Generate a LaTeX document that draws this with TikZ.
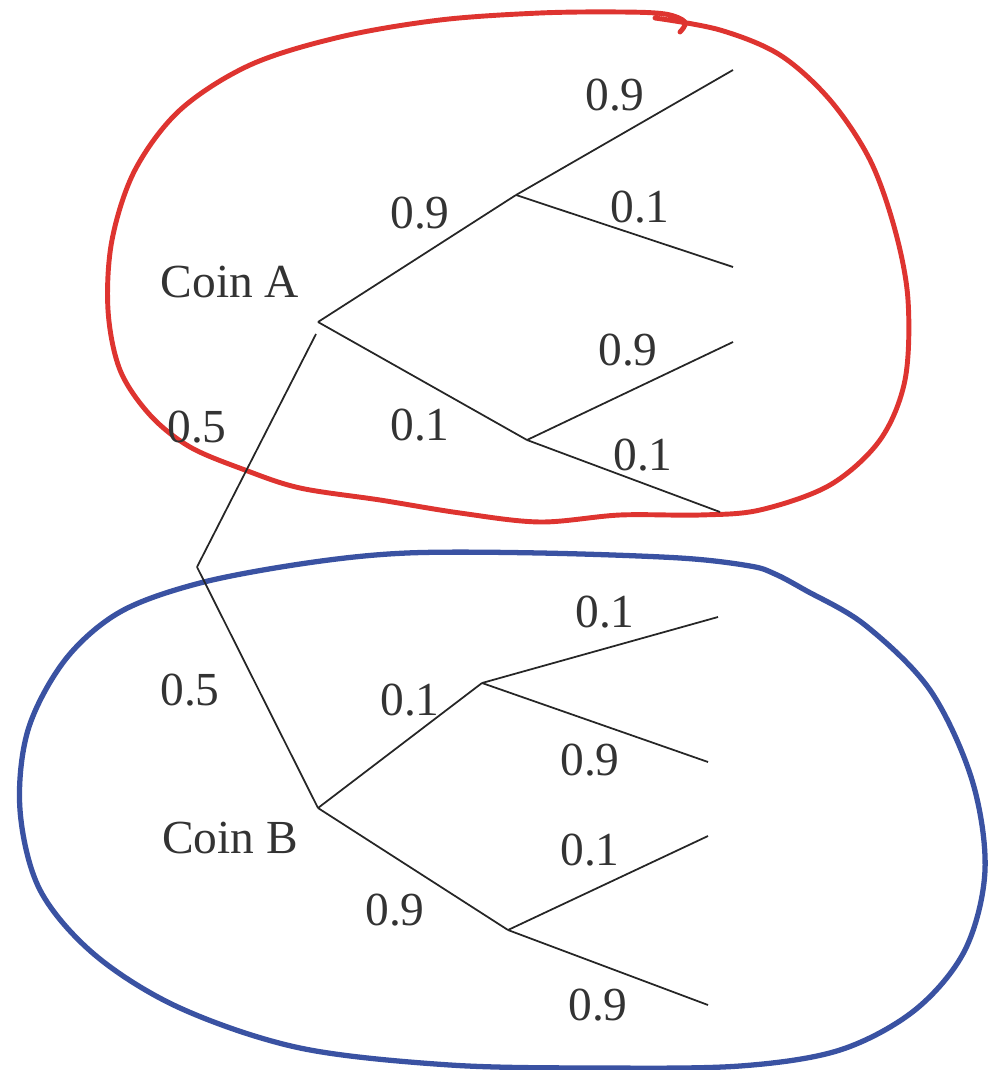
\documentclass[tikz,border=0pt]{standalone}
\usepackage{fontspec}
\setmainfont{Liberation Serif}
\definecolor{loopred}{RGB}{222,52,48}
\definecolor{loopblue}{RGB}{58,82,162}
\begin{document}
\begin{tikzpicture}[x=0.02cm,y=-0.02cm,
  branch/.style={line width=1pt,black!85},
  lbl/.style={font=\fontsize{27}{29}\selectfont,text=black!80,inner sep=0pt},
  redloop/.style={line width=2.8pt,loopred,line cap=round,line join=round},
  blueloop/.style={line width=3pt,loopblue,line cap=round,line join=round}]
\useasboundingbox (0,0) rectangle (988,1070);
% freehand loops
\draw[redloop] plot[smooth,tension=0.55] coordinates {(655,18) (720,30) (780,55) (830,100) (870,160) (895,230) (908,300) (905,380) (880,440) (830,485) (760,510) (700,515) (620,515) (540,522) (460,513) (380,500) (300,488) (245,470) (190,447) (150,415) (120,370) (108,310) (112,240) (135,170) (180,110) (250,65) (340,37) (440,20) (540,13) (620,12) (665,14) (685,22) (680,32)};
\draw[blueloop] plot[smooth cycle,tension=0.55] coordinates {(200,583) (307,563) (407,553) (540,553) (680,558) (750,566) (775,574) (805,590) (865,625) (930,690) (972,780) (985,870) (965,950) (915,1010) (840,1050) (740,1066) (600,1068) (450,1065) (300,1048) (180,1008) (95,955) (40,890) (20,810) (28,730) (65,660) (120,612)};
% tree points
\coordinate (R) at (197,567);
\coordinate (A) at (318,322);
\coordinate (Ain) at (316,334);
\coordinate (B) at (318,808);
\coordinate (AH) at (516,195);
\coordinate (AT) at (527,440);
\coordinate (BH) at (482,683);
\coordinate (BT) at (508,930);
\coordinate (a1) at (733,70);
\coordinate (a2) at (733,267);
\coordinate (a3) at (733,342);
\coordinate (a4) at (720,512);
\coordinate (b1) at (718,617);
\coordinate (b2) at (708,762);
\coordinate (b3) at (708,836);
\coordinate (b4) at (708,1005);
% branches
\draw[branch] (R) -- (Ain);
\draw[branch] (R) -- (B);
\draw[branch] (A) -- (AH);
\draw[branch] (A) -- (AT);
\draw[branch] (AH) -- (a1);
\draw[branch] (AH) -- (a2);
\draw[branch] (AT) -- (a3);
\draw[branch] (AT) -- (a4);
\draw[branch] (B) -- (BH);
\draw[branch] (B) -- (BT);
\draw[branch] (BH) -- (b1);
\draw[branch] (BH) -- (b2);
\draw[branch] (BT) -- (b3);
\draw[branch] (BT) -- (b4);
% labels
\node[lbl] (coinA) at (230,282) {Coin A};
\node[lbl] (coinB) at (230,838) {Coin B};
\node[lbl] (pRA) at (197,427) {0.5};
\node[lbl] (pRB) at (190,690) {0.5};
\node[lbl] (pAH) at (420,213) {0.9};
\node[lbl] (pAT) at (420,425) {0.1};
\node[lbl] (pa1) at (615,95) {0.9};
\node[lbl] (pa2) at (640,207) {0.1};
\node[lbl] (pa3) at (628,350) {0.9};
\node[lbl] (pa4) at (643,455) {0.1};
\node[lbl] (pBH) at (410,700) {0.1};
\node[lbl] (pBT) at (395,910) {0.9};
\node[lbl] (pb1) at (605,612) {0.1};
\node[lbl] (pb2) at (590,760) {0.9};
\node[lbl] (pb3) at (590,850) {0.1};
\node[lbl] (pb4) at (598,1005) {0.9};
\end{tikzpicture}
\end{document}
